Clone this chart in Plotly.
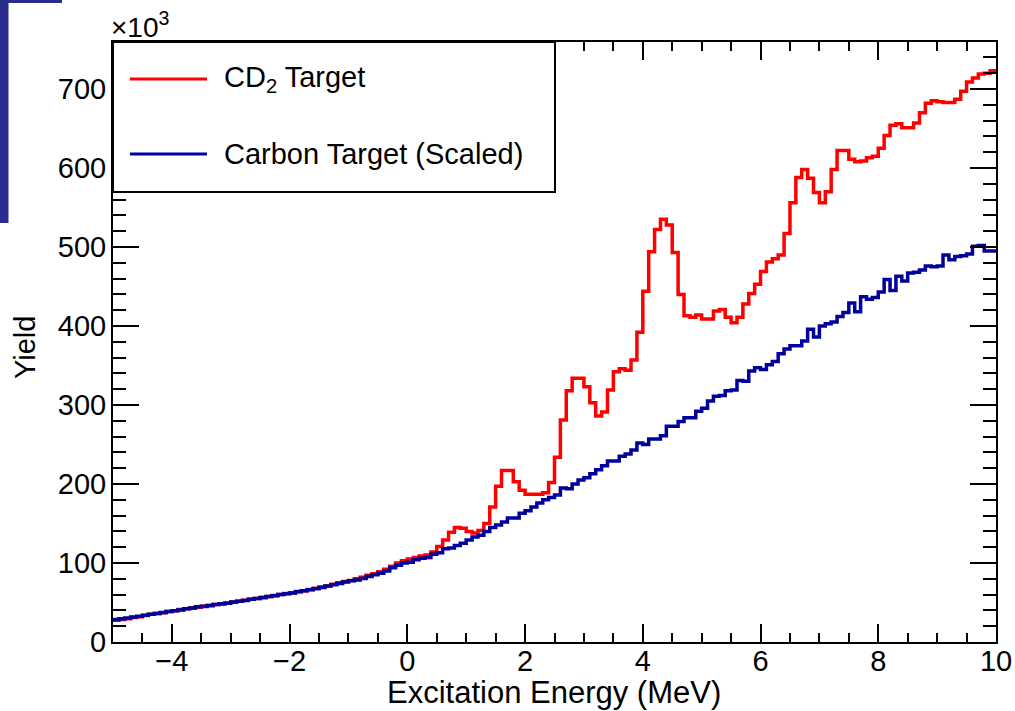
import numpy as np
import plotly.graph_objects as go

# Histogram binning: 150 bins of 0.1 MeV from -5 to 10 MeV
E_MIN = -5.0
BIN_WIDTH = 0.1

# Yield per bin (units of 10^3 counts), CD2 target
cd2_yield = [
    27.5, 28.5, 29.5, 31.0, 32.0, 33.5, 35.0, 36.0, 37.0, 38.5,
    39.5, 41.0, 42.0, 43.0, 44.0, 45.5, 46.5, 47.5, 48.0, 49.5,
    50.5, 51.5, 53.0, 54.0, 55.0, 56.5, 57.5, 59.0, 60.0, 61.5,
    62.5, 64.0, 65.0, 66.5, 68.0, 69.5, 71.0, 73.0, 75.0, 76.5,
    78.0, 80.0, 82.0, 84.5, 86.5, 89.0, 92.0, 96.0, 100.0, 103.0,
    105, 107, 109, 110, 114, 121, 129, 139, 145, 144,
    140, 138, 141, 150, 171, 197, 217, 217, 203, 192,
    187, 187, 187, 189, 202, 234, 281, 318, 334, 334,
    323, 303, 286, 291, 319, 342, 346, 344, 357, 392,
    444, 494, 522, 535, 528, 493, 440, 413, 411, 414,
    409, 409, 419, 421, 411, 404, 411, 428, 441, 453,
    469, 481, 485, 490, 517, 556, 588, 598, 587, 569,
    556, 570, 598, 622, 622, 611, 608, 609, 613, 615,
    625, 641, 654, 656, 651, 651, 657, 670, 682, 685,
    684, 683, 683, 687, 697, 709, 714, 719, 720, 723,
]

# Yield per bin (units of 10^3 counts), carbon target after scaling
carbon_yield = [
    28.5, 29.5, 30.5, 31.5, 32.5, 34.0, 35.0, 36.0, 37.5, 38.5,
    39.5, 40.5, 42.0, 43.0, 44.5, 45.0, 46.0, 47.5, 48.5, 49.0,
    50.5, 51.5, 52.5, 54.0, 55.0, 56.0, 57.5, 58.5, 60.0, 61.0,
    62.0, 63.5, 65.0, 66.0, 67.5, 69.0, 71.0, 72.5, 74.0, 76.0,
    77.5, 78.5, 80.5, 83.0, 85.0, 87.0, 90.0, 94.0, 97.0, 100.0,
    101, 104, 106, 107, 111, 113, 118, 119, 122, 125,
    129, 133, 135, 140, 145, 148, 152, 157, 157, 163,
    166, 171, 176, 180, 183, 186, 195, 194, 200, 205,
    208, 213, 218, 223, 229, 229, 235, 238, 243, 252,
    250, 257, 257, 261, 273, 273, 279, 284, 284, 292,
    296, 305, 311, 312, 318, 319, 331, 330, 343, 347,
    345, 351, 355, 365, 371, 375, 375, 381, 396, 386,
    400, 403, 405, 412, 417, 429, 418, 437, 434, 436,
    443, 459, 445, 463, 457, 467, 468, 471, 476, 475,
    476, 490, 484, 488, 489, 491, 501, 502, 495, 495,
]

series_names = ["CD<sub>2</sub> Target", "Carbon Target (Scaled)"]
series_colors = ["#ff0000", "#00009c"]

x_ticks = [-4, -2, 0, 2, 4, 6, 8, 10]
y_ticks = [0, 100, 200, 300, 400, 500, 600, 700]

W, H = 1015, 711
L, R, T, B = 113, 19, 42, 69
PW, PH = W - L - R, H - T - B


def px(xpix):
    return (xpix - L) / PW


def py(ypix):
    return (H - B - ypix) / PH


def step_trace(values, color):
    n = len(values)
    edges = E_MIN + BIN_WIDTH * np.arange(n + 1)
    ys = list(values) + [values[-1]]
    return go.Scatter(
        x=edges, y=ys, mode="lines", line=dict(color=color, width=3.5, shape="hv"),
        showlegend=False, hoverinfo="skip",
    )


fig = go.Figure()
fig.add_trace(step_trace(cd2_yield, series_colors[0]))
fig.add_trace(step_trace(carbon_yield, series_colors[1]))

FONT = "Liberation Sans, Arial, sans-serif"
axis_common = dict(
    showgrid=False, zeroline=False, showline=True, linecolor="black", linewidth=2,
    mirror="ticks", ticks="inside", tickcolor="black", tickwidth=2, automargin=False,
    tickfont=dict(family=FONT, size=29, color="black"),
)

fig.update_xaxes(
    range=[-5, 10], tickvals=x_ticks, ticklen=18,
    minor=dict(dtick=0.5, ticklen=9, ticks="inside", tickcolor="black", tickwidth=2),
    ticklabelstandoff=-8,
    **axis_common,
)
fig.update_yaxes(
    range=[0, 759.5], tickvals=y_ticks, ticklen=26,
    minor=dict(dtick=20, ticklen=13, ticks="inside", tickcolor="black", tickwidth=2),
    ticklabelstandoff=-1,
    **axis_common,
)

shapes = [
    # legend box
    dict(type="rect", xref="paper", yref="paper", x0=px(113), x1=px(555), y0=py(42), y1=py(192),
         line=dict(color="black", width=2), fillcolor="white", layer="above"),
    dict(type="line", xref="paper", yref="paper", x0=px(130), x1=px(207), y0=py(79), y1=py(79),
         line=dict(color=series_colors[0], width=3), layer="above"),
    dict(type="line", xref="paper", yref="paper", x0=px(130), x1=px(207), y0=py(154), y1=py(154),
         line=dict(color=series_colors[1], width=3), layer="above"),
    # slide edge in the top-left corner
    dict(type="rect", xref="paper", yref="paper", x0=px(0), x1=px(8.5), y0=py(0), y1=py(223),
         line=dict(width=0), fillcolor="#2c2c8e", layer="above"),
    dict(type="rect", xref="paper", yref="paper", x0=px(0), x1=px(62), y0=py(0), y1=py(3),
         line=dict(width=0), fillcolor="#2c2c8e", layer="above"),
]

annotations = [
    dict(text=series_names[0], x=px(222), y=py(79), xref="paper", yref="paper",
         xanchor="left", yanchor="middle", showarrow=False,
         font=dict(family=FONT, size=29, color="black")),
    dict(text=series_names[1], x=px(222), y=py(154), xref="paper", yref="paper",
         xanchor="left", yanchor="middle", showarrow=False,
         font=dict(family=FONT, size=29, color="black")),
    dict(text="×10<sup>3</sup>", x=px(109), y=py(45), xref="paper", yref="paper",
         xanchor="left", yanchor="bottom", showarrow=False,
         font=dict(family=FONT, size=28, color="black")),
    dict(text="Yield", x=px(25), y=py(348), xref="paper", yref="paper", textangle=-90,
         xanchor="center", yanchor="middle", showarrow=False,
         font=dict(family=FONT, size=29, color="black")),
    dict(text="Excitation Energy (MeV)", x=px(554), y=py(692), xref="paper", yref="paper",
         xanchor="center", yanchor="middle", showarrow=False,
         font=dict(family=FONT, size=31, color="black")),
]

fig.update_layout(
    width=W, height=H, margin=dict(l=L, r=R, t=T, b=B, pad=0),
    paper_bgcolor="white", plot_bgcolor="white",
    shapes=shapes, annotations=annotations, showlegend=False,
)

fig.write_html("out.html")
